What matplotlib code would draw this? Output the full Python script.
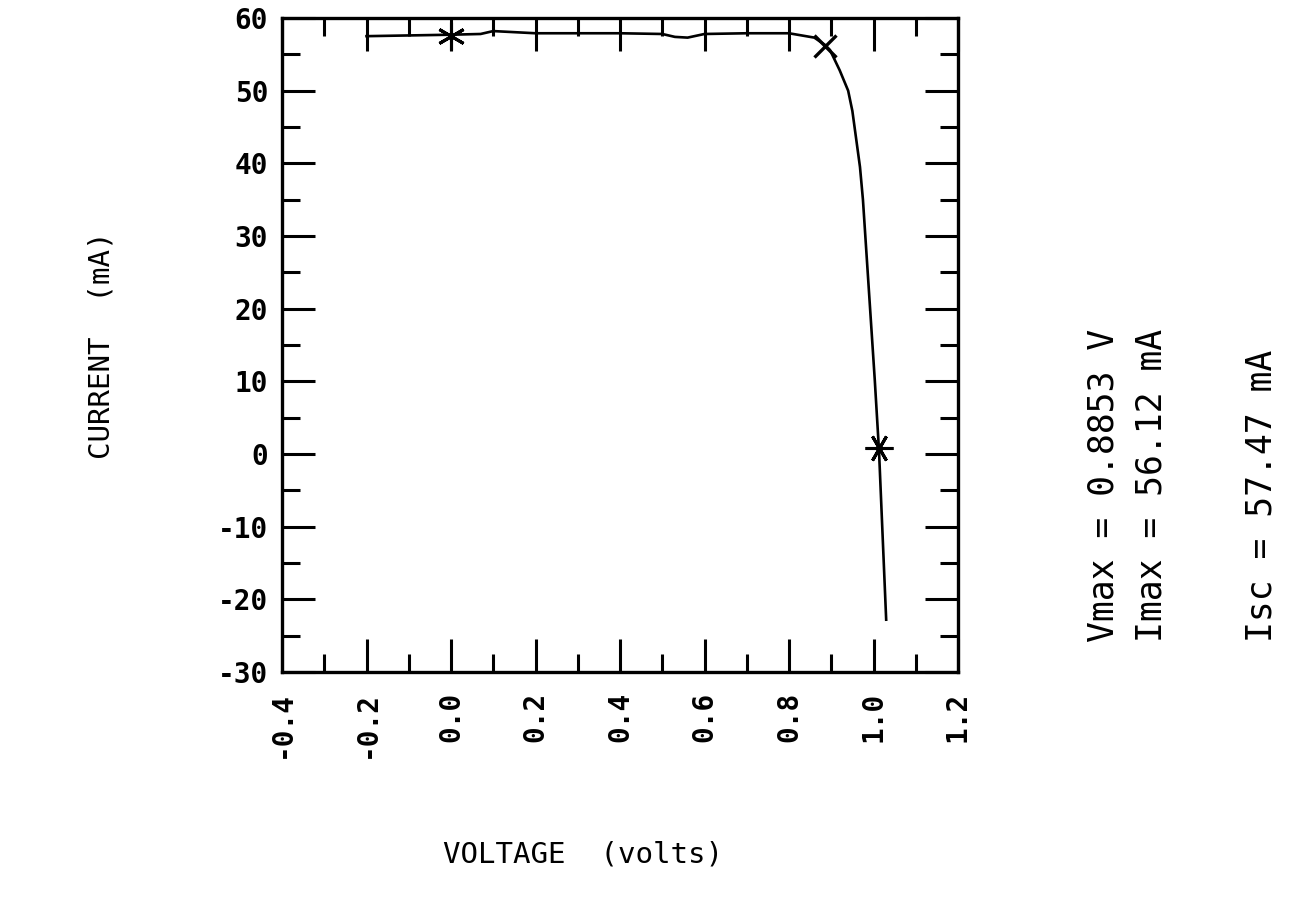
import numpy as np
import matplotlib
matplotlib.use('Agg')
import matplotlib.pyplot as plt
from matplotlib.ticker import MultipleLocator

# I-V curve
voltage = [-0.2, -0.1, 0.0, 0.07, 0.1, 0.2, 0.3, 0.4, 0.5, 0.53, 0.56, 0.6, 0.7, 0.8,
           0.86, 0.885, 0.897, 0.92, 0.94, 0.95, 0.968, 0.975, 1.003, 1.013, 1.03]
current = [57.5, 57.6, 57.7, 57.8, 58.2, 57.9, 57.9, 57.9, 57.8, 57.4, 57.3, 57.8, 57.9, 57.9,
           57.3, 56.3, 55.6, 52.8, 50.0, 47.2, 39.5, 35.0, 10.2, 0.5, -22.8]

# marked points: Isc, max power point, Voc
isc_pt = (0.0, 57.47)
pmax_pt = (0.8853, 56.12)
voc_pt = (1.012, 0.8)

x_ticks = [-0.4, -0.2, 0.0, 0.2, 0.4, 0.6, 0.8, 1.0, 1.2]
y_ticks = [-30, -20, -10, 0, 10, 20, 30, 40, 50, 60]

info_lines = ['Vmax = 0.8853 V', 'Imax = 56.12 mA', 'Isc = 57.47 mA']

mono = 'DejaVu Sans Mono'

fig = plt.figure(figsize=(12.94, 9.14), dpi=100)
ax = fig.add_axes([282 / 1294, 1 - 672 / 914, (958 - 282) / 1294, (672 - 18) / 914])

ax.plot(voltage, current, 'k-', lw=1.9)
ax.plot(*isc_pt, marker=(6, 2, 0), color='k', ms=20, mew=2.2, ls='none')
ax.plot(*pmax_pt, marker='x', color='k', ms=16, mew=2.4, ls='none')
ax.plot(*voc_pt, marker=(6, 2, 90), color='k', ms=20, mew=2.2, ls='none')

ax.set_xlim(-0.4, 1.2)
ax.set_ylim(-30, 60)
ax.xaxis.set_minor_locator(MultipleLocator(0.1))
ax.yaxis.set_minor_locator(MultipleLocator(5))
ax.set_xticks(x_ticks)
ax.set_yticks(y_ticks)
ax.set_xticklabels([f'{v:.1f}' for v in x_ticks], rotation=90, fontfamily=mono,
                   fontweight='bold', fontsize=20)
ax.set_yticklabels([str(v) for v in y_ticks], fontfamily=mono, fontweight='bold', fontsize=20)

ax.tick_params(which='both', direction='in', top=True, right=True, width=2.2, color='k')
ax.tick_params(which='major', length=24, pad=14)
ax.tick_params(which='minor', length=13)
ax.tick_params(axis='y', which='major', pad=10)
for sp in ax.spines.values():
    sp.set_linewidth(2.4)

fig.text(583 / 1294, 1 - 855 / 914, 'VOLTAGE  (volts)', fontfamily=mono, fontsize=21,
         ha='center', va='center')
fig.text(102 / 1294, 1 - 345 / 914, 'CURRENT  (mA)', fontfamily=mono, fontsize=21,
         rotation=90, ha='center', va='center')

for xpix, txt in zip([1103, 1152, 1262], info_lines):
    fig.text(xpix / 1294, 1 - 642 / 914, txt, fontfamily=mono, fontsize=25,
             rotation=90, ha='center', va='bottom')

fig.savefig('out.png', dpi=100)
